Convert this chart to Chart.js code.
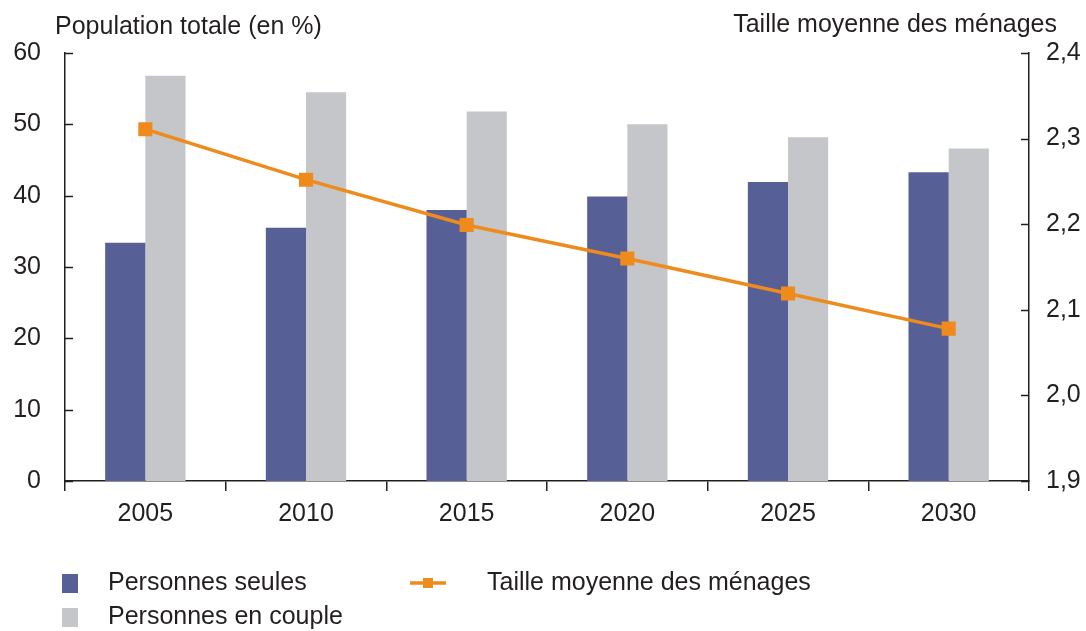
<!DOCTYPE html>
<html>
<head>
<meta charset="utf-8">
<script src="https://cdn.jsdelivr.net/npm/chart.js@4.4.1/dist/chart.umd.min.js"></script>
<style>
  html, body { margin: 0; padding: 0; background: #fff; }
  #wrap { width: 1086px; height: 631px; position: relative; }
</style>
</head>
<body>
<div id="wrap"><canvas id="chart"></canvas></div>
<script>
// donnees
var annees = ["2005", "2010", "2015", "2020", "2025", "2030"];
var personnesSeules = [33.4, 35.5, 38.0, 39.9, 41.9, 43.3];
var personnesCouple = [56.8, 54.5, 51.8, 50.0, 48.2, 46.6];
var tailleMenages = [2.311, 2.252, 2.199, 2.160, 2.119, 2.078];

var FONT = "'Liberation Sans', Arial, sans-serif";
var INK = "#231f20";
var FS = 25;

// petits traits vers l'interieur sur les deux axes verticaux + titres d'axe + legende
var axesDecor = {
    id: "axesDecor",
    afterDraw: function(chart) {
        var ctx = chart.ctx;
        var yl = chart.scales.y, yr = chart.scales.y2;
        ctx.save();
        ctx.strokeStyle = INK;
        ctx.lineWidth = 1.5;
        yl.ticks.forEach(function(t) {
            var py = Math.round(yl.getPixelForValue(t.value)) + 0.5;
            ctx.beginPath(); ctx.moveTo(yl.right, py); ctx.lineTo(yl.right + 8, py); ctx.stroke();
        });
        yr.ticks.forEach(function(t) {
            var py = Math.round(yr.getPixelForValue(t.value)) + 0.5;
            ctx.beginPath(); ctx.moveTo(yr.left - 8, py); ctx.lineTo(yr.left, py); ctx.stroke();
        });
        ctx.fillStyle = INK;
        ctx.font = FS + "px " + FONT;
        ctx.textBaseline = "middle";
        ctx.textAlign = "left";
        ctx.fillText("Population totale (en %)", 55, 27);
        ctx.textAlign = "right";
        ctx.fillText("Taille moyenne des m\u00e9nages", 1057, 25);

        // legende
        var ds = chart.data.datasets;
        ctx.textAlign = "left";
        ctx.fillStyle = ds[0].backgroundColor;
        ctx.fillRect(62, 574, 16, 19);
        ctx.fillStyle = ds[1].backgroundColor;
        ctx.fillRect(62, 608, 16, 19);
        ctx.strokeStyle = ds[2].borderColor;
        ctx.lineWidth = 3.5;
        ctx.beginPath(); ctx.moveTo(410, 583); ctx.lineTo(446, 583); ctx.stroke();
        ctx.fillStyle = ds[2].borderColor;
        ctx.fillRect(423, 578, 10, 10);
        ctx.fillStyle = INK;
        ctx.fillText(ds[0].label, 108, 583);
        ctx.fillText(ds[1].label, 108, 617);
        ctx.fillText(ds[2].label, 487, 583);
        ctx.restore();
    }
};

new Chart(document.getElementById("chart"), {
    type: "bar",
    data: {
        labels: annees,
        datasets: [{
            label: "Personnes seules",
            data: personnesSeules,
            backgroundColor: "#575f97",
            yAxisID: "y",
            order: 2
        }, {
            label: "Personnes en couple",
            data: personnesCouple,
            backgroundColor: "#c4c6c9",
            yAxisID: "y",
            order: 2
        }, {
            type: "line",
            label: "Taille moyenne des m\u00e9nages",
            data: tailleMenages,
            borderColor: "#ef8a1d",
            backgroundColor: "#ef8a1d",
            borderWidth: 3.5,
            pointStyle: "rect",
            pointRadius: 7.5,
            tension: 0,
            yAxisID: "y2",
            order: 0
        }]
    },
    options: {
        responsive: true,
        maintainAspectRatio: false,
        animation: false,
        layout: { padding: { top: 53, left: 0, right: 0, bottom: 0 } },
        datasets: { bar: { barPercentage: 1, categoryPercentage: 0.5 } },
        plugins: {
            legend: { display: false },
            tooltip: { enabled: false }
        },
        scales: {
            x: {
                offset: true,
                grid: { display: true, drawOnChartArea: false, drawTicks: true, tickLength: 10, color: INK, lineWidth: 1.5, offset: true },
                border: { display: true, color: INK, width: 1.5 },
                ticks: { color: INK, font: { size: FS, family: FONT }, padding: 8 },
                afterFit: function(s) { s.height = 150; }
            },
            y: {
                position: "left",
                min: 0, max: 60,
                ticks: { stepSize: 10, color: INK, font: { size: FS, family: FONT }, padding: 24 },
                grid: { display: false, drawTicks: false },
                border: { display: true, color: INK, width: 1.5 },
                afterFit: function(s) { s.width = 65; }
            },
            y2: {
                position: "right",
                min: 1.9, max: 2.4,
                ticks: {
                    stepSize: 0.1, color: INK, font: { size: FS, family: FONT }, padding: 17,
                    callback: function(v) { return v.toFixed(1).replace(".", ","); }
                },
                grid: { display: false, drawTicks: false },
                border: { display: true, color: INK, width: 1.5 },
                afterFit: function(s) { s.width = 57; }
            }
        }
    },
    plugins: [axesDecor]
});
</script>
</body>
</html>
